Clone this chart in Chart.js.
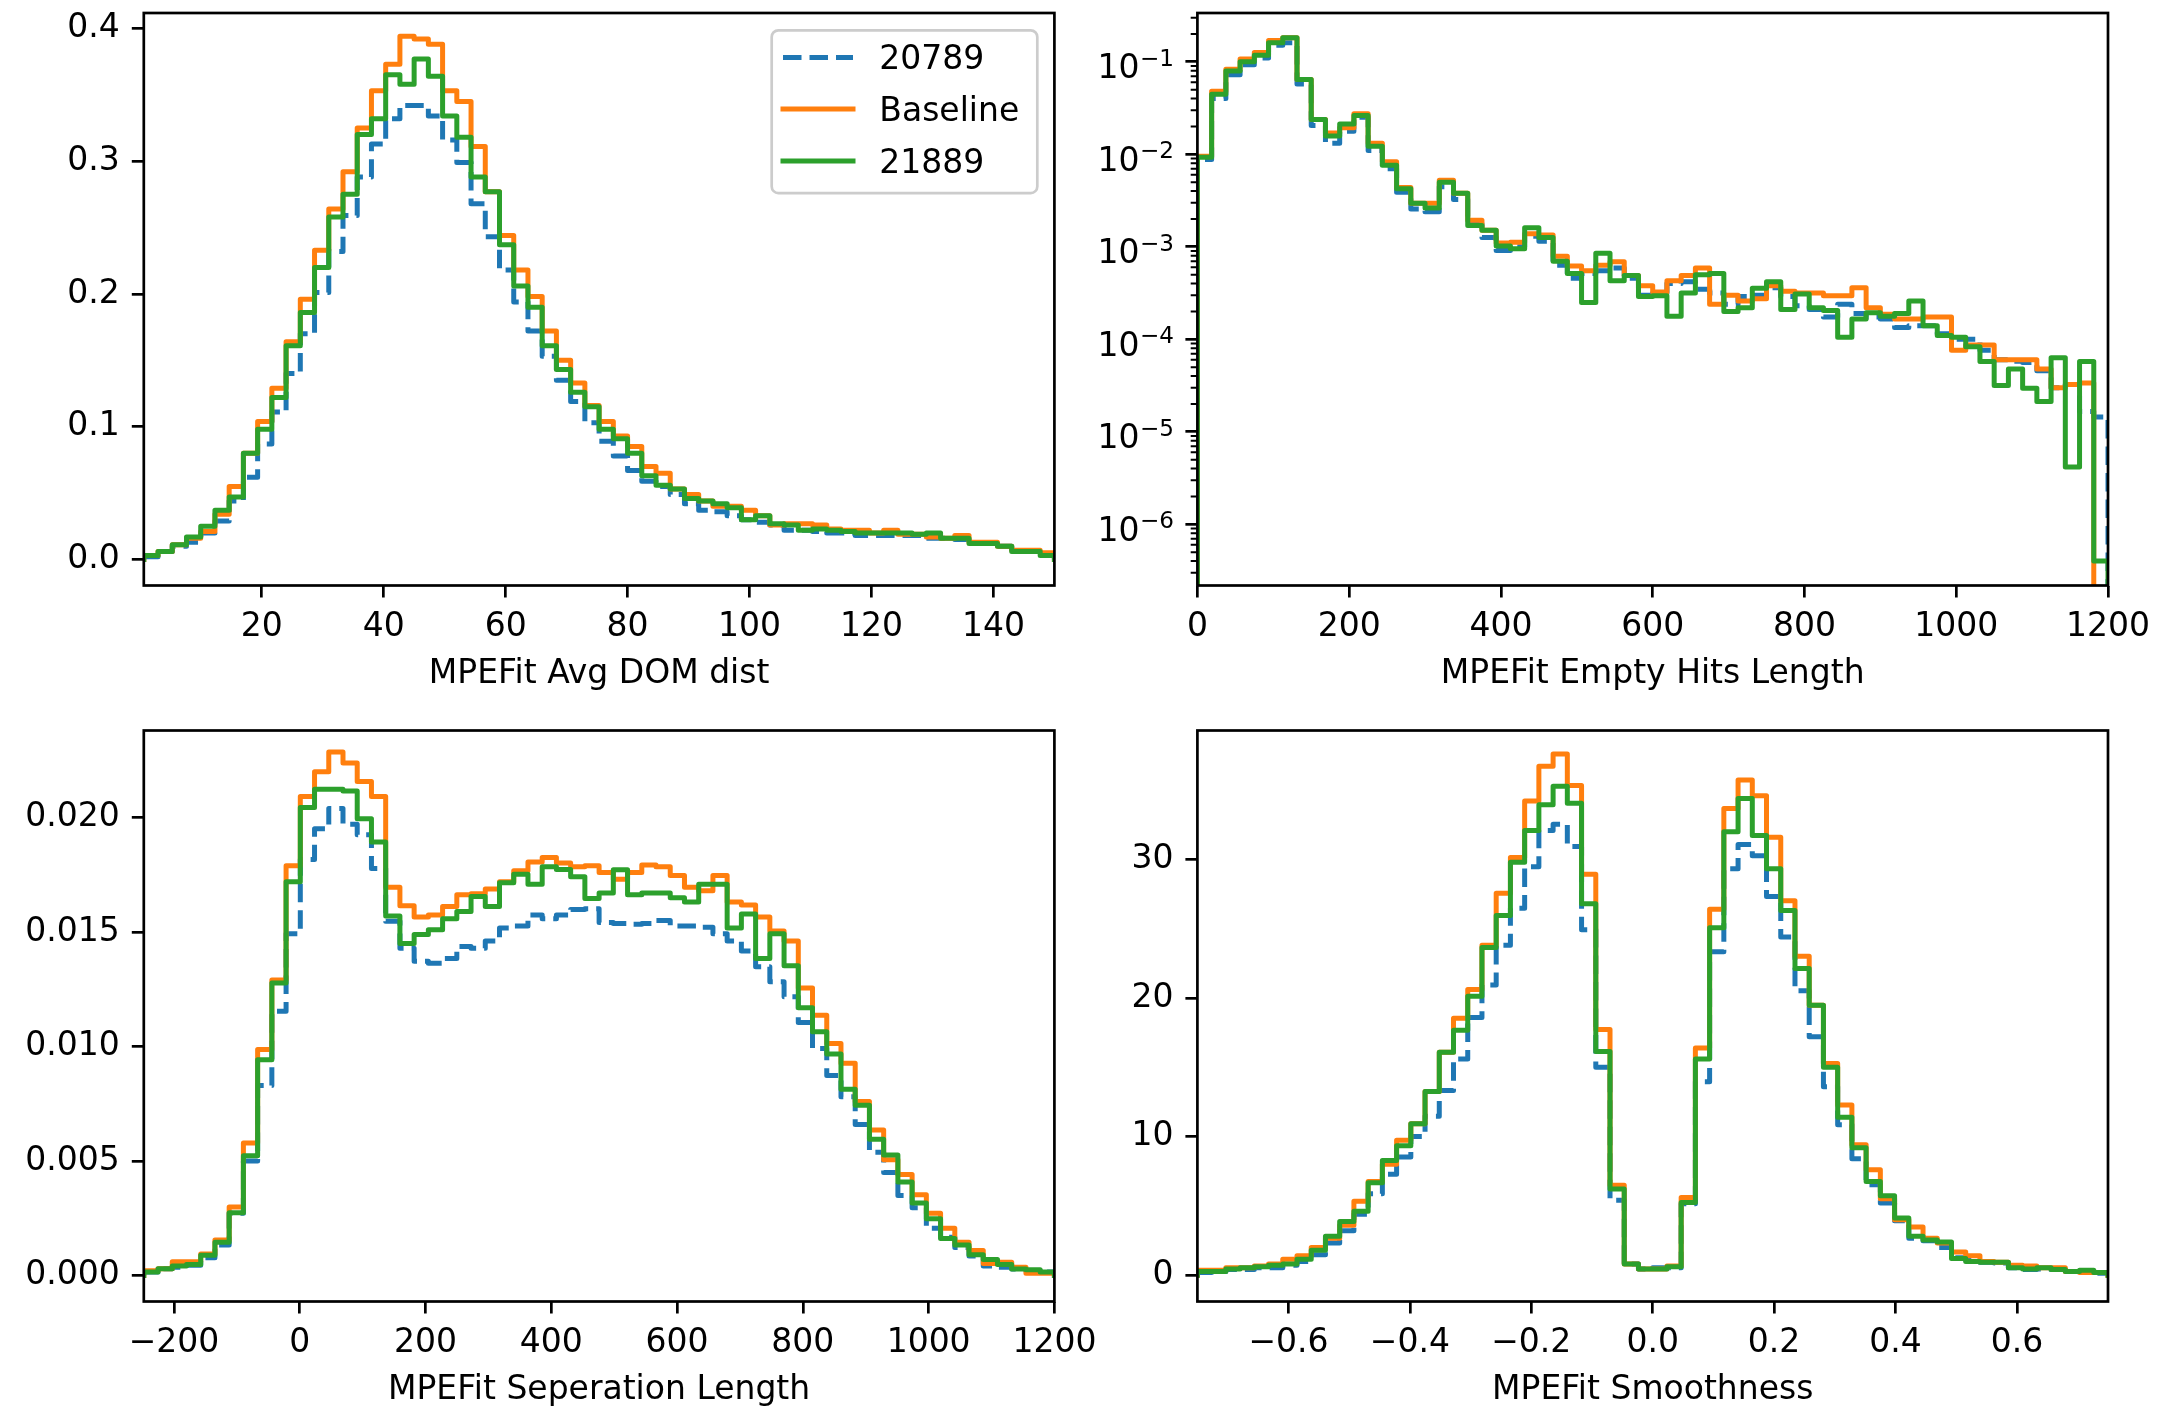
<!DOCTYPE html>
<html>
<head>
<meta charset="utf-8">
<script src="https://cdn.jsdelivr.net/npm/chart.js@4.4.1/dist/chart.umd.min.js"></script>
<style>
html,body{margin:0;padding:0;background:#fff;width:2163px;height:1407px;overflow:hidden;}
canvas{position:absolute;}
#legend{position:absolute;left:0;top:0;}
</style>
</head>
<body>
<canvas id="c1"></canvas>
<canvas id="c2"></canvas>
<canvas id="c3"></canvas>
<canvas id="c4"></canvas>
<svg id="legend" width="1100" height="220"></svg>
<script>
// ---------------- data ----------------
const seriesNames = ['20789', 'Baseline', '21889'];
const seriesColors = ['#1f77b4', '#ff7f0e', '#2ca02c'];
const nBins = 64;

// Panel 1: MPEFit Avg DOM dist
const avgRange = [0.66, 150];
const avg20789 = [0.002,0.006,0.010,0.013,0.020,0.029,0.044,0.062,0.087,0.111,0.140,0.170,0.201,0.232,0.259,0.288,0.313,0.332,0.342,0.342,0.334,0.316,0.299,0.268,0.243,0.218,0.194,0.172,0.153,0.135,0.119,0.103,0.089,0.078,0.067,0.059,0.055,0.049,0.042,0.037,0.036,0.033,0.030,0.028,0.026,0.022,0.022,0.021,0.020,0.020,0.018,0.018,0.018,0.018,0.018,0.016,0.016,0.015,0.012,0.012,0.010,0.006,0.006,0.003];
const avgBaseline = [0.003,0.006,0.011,0.016,0.021,0.034,0.055,0.080,0.104,0.129,0.164,0.196,0.233,0.264,0.292,0.325,0.353,0.373,0.394,0.392,0.388,0.353,0.345,0.311,0.277,0.244,0.218,0.198,0.172,0.150,0.133,0.116,0.104,0.093,0.085,0.070,0.065,0.053,0.049,0.044,0.040,0.040,0.037,0.033,0.026,0.027,0.027,0.026,0.023,0.022,0.022,0.020,0.022,0.019,0.019,0.017,0.016,0.018,0.013,0.013,0.010,0.007,0.007,0.005];
const avg21889 = [0.003,0.006,0.011,0.017,0.025,0.037,0.047,0.080,0.098,0.122,0.161,0.186,0.220,0.258,0.275,0.320,0.332,0.365,0.358,0.377,0.364,0.334,0.318,0.288,0.277,0.237,0.206,0.190,0.161,0.143,0.126,0.115,0.098,0.091,0.080,0.063,0.056,0.053,0.046,0.044,0.042,0.039,0.030,0.033,0.027,0.026,0.022,0.023,0.022,0.021,0.020,0.020,0.020,0.020,0.019,0.020,0.016,0.016,0.012,0.012,0.010,0.006,0.006,0.003];
const avgTicksX = [20,40,60,80,100,120,140];
const avgTickLabelsX = ['20','40','60','80','100','120','140'];
const avgTicksY = [0,0.1,0.2,0.3,0.4];
const avgTickLabelsY = ['0.0','0.1','0.2','0.3','0.4'];
const avgYRange = [-0.0196, 0.4116];

// Panel 2: MPEFit Empty Hits Length (log y)
const hitsRange = [0, 1200];
const hits20789 = [0.0088,0.040,0.0724,0.093,0.11,0.151,0.161,0.0575,0.0205,0.0132,0.0177,0.0251,0.011,0.007,0.0039,0.00256,0.0024,0.00445,0.00325,0.00177,0.00126,0.00091,0.001,0.0013,0.00115,0.00063,0.000457,0.000515,0.00055,0.00059,0.000457,0.0003,0.000316,0.0004,0.00042,0.000347,0.000316,0.00024,0.00029,0.0003,0.00036,0.00029,0.00023,0.00021,0.000174,0.00024,0.00019,0.000174,0.000166,0.000134,0.00014,0.00014,0.000115,0.0001,0.0001,0.000076,0.00006,0.000058,0.000056,0.0000457,0.00003,0.0000325,0.0000166,0.0000145];
const hitsBaseline = [0.0095,0.048,0.083,0.107,0.126,0.17,0.182,0.0643,0.0238,0.017,0.0194,0.0275,0.0132,0.0083,0.00437,0.00296,0.00296,0.00525,0.0038,0.00194,0.00151,0.0011,0.00112,0.00138,0.00134,0.00079,0.00062,0.00055,0.00063,0.00069,0.00049,0.00038,0.000325,0.00043,0.00049,0.00059,0.00024,0.0003,0.00026,0.000275,0.00038,0.00033,0.000316,0.000316,0.000296,0.000296,0.00036,0.00022,0.000187,0.000166,0.000166,0.000174,0.000174,0.000076,0.000087,0.000087,0.00006,0.00006,0.00006,0.0000479,0.00003,0.0000325,0.0000337,0];
const hits21889 = [0.0093,0.0445,0.0794,0.1,0.118,0.161,0.182,0.0643,0.0238,0.0158,0.0213,0.0263,0.0122,0.0076,0.00425,0.00296,0.00263,0.005,0.0038,0.0017,0.00151,0.00102,0.00095,0.00161,0.00126,0.0007,0.000515,0.00025,0.00085,0.00043,0.00049,0.00029,0.000296,0.000177,0.000316,0.0005,0.000515,0.0002,0.00022,0.000356,0.00042,0.00021,0.000308,0.00022,0.000205,0.000105,0.000166,0.000194,0.000177,0.00019,0.00026,0.00014,0.00011,0.000105,0.000083,0.0000575,0.0000316,0.0000479,0.0000296,0.0000213,0.000063,0.00000417,0.0000575,0.0000004];
const hitsTicksX = [0,200,400,600,800,1000,1200];
const hitsTickLabelsX = ['0','200','400','600','800','1000','1200'];
const hitsTicksY = [1e-6,1e-5,1e-4,1e-3,1e-2,1e-1];
const hitsTickBase = '10';
const hitsTickExponents = ['\u22126','\u22125','\u22124','\u22123','\u22122','\u22121'];
const hitsYRange = [2.18e-7, 0.337];

// Panel 3: MPEFit Seperation Length
const sepRange = [-248, 1200];
const sep20789 = [0.00016,0.0003,0.00037,0.00045,0.00078,0.00134,0.00272,0.0050,0.0083,0.01154,0.01493,0.01817,0.01951,0.02039,0.01971,0.01925,0.01777,0.01547,0.01429,0.01372,0.01364,0.01385,0.01437,0.01429,0.01461,0.01518,0.01526,0.01574,0.01558,0.01574,0.01599,0.01602,0.01542,0.01537,0.01534,0.01537,0.0155,0.01526,0.01526,0.01521,0.01493,0.01461,0.01417,0.01348,0.01283,0.01218,0.01105,0.00992,0.00874,0.00781,0.0066,0.00539,0.0045,0.0035,0.00296,0.00207,0.00167,0.00123,0.00086,0.00042,0.00037,0.00029,0.00021,0.00016];
const sepBaseline = [0.00021,0.0003,0.00061,0.00061,0.00094,0.00155,0.0030,0.00579,0.00987,0.01291,0.0179,0.02092,0.0220,0.02286,0.02238,0.02157,0.02092,0.01696,0.01615,0.01566,0.01574,0.01612,0.01663,0.01667,0.01688,0.0172,0.01768,0.01806,0.01825,0.01801,0.01785,0.0179,0.0176,0.01731,0.0176,0.01793,0.01785,0.01747,0.01696,0.0168,0.01747,0.01631,0.01618,0.01566,0.01505,0.01461,0.01256,0.01137,0.01013,0.00927,0.0076,0.00636,0.00506,0.00442,0.00353,0.00272,0.00207,0.00146,0.0011,0.00053,0.00058,0.00037,0.0001,0.0001];
const sep21889 = [0.00016,0.0003,0.00042,0.00049,0.00089,0.00146,0.00275,0.00523,0.00943,0.01278,0.0172,0.02044,0.02124,0.02124,0.02116,0.01995,0.01893,0.0157,0.0145,0.01489,0.0151,0.01558,0.0159,0.01655,0.01612,0.01715,0.01752,0.01709,0.01785,0.01773,0.01741,0.01647,0.01671,0.01772,0.01663,0.01671,0.01671,0.0165,0.01631,0.01709,0.01709,0.01518,0.01579,0.01385,0.01493,0.01353,0.0117,0.01065,0.00968,0.00814,0.00744,0.00595,0.00527,0.00409,0.00317,0.00248,0.00162,0.00134,0.00091,0.0007,0.00049,0.00029,0.00026,0.00016];
const sepTicksX = [-200,0,200,400,600,800,1000,1200];
const sepTickLabelsX = ['\u2212200','0','200','400','600','800','1000','1200'];
const sepTicksY = [0,0.005,0.010,0.015,0.020];
const sepTickLabelsY = ['0.000','0.005','0.010','0.015','0.020'];
const sepYRange = [-0.00113, 0.0238];

// Panel 4: MPEFit Smoothness
const smoothRange = [-0.75, 0.75];
const smooth20789 = [0.19,0.27,0.4,0.4,0.53,0.53,0.72,0.99,1.47,2.32,3.2,4.4,5.87,7.28,8.53,10.0,11.47,13.33,15.6,18.59,20.93,23.81,26.48,29.47,32.08,32.53,30.93,24.93,15.01,5.41,0.8,0.45,0.53,0.53,5.15,13.95,23.33,29.33,31.07,30.27,27.33,24.4,20.53,17.2,13.6,10.85,8.4,6.53,5.2,3.92,2.67,2.48,2.0,1.25,1.07,0.93,0.88,0.53,0.4,0.45,0.4,0.27,0.27,0.13];
const smoothBaseline = [0.35,0.35,0.53,0.53,0.67,0.8,1.15,1.41,2.0,2.67,3.6,5.33,6.75,8.0,9.73,10.93,13.25,16.08,18.53,20.61,23.81,27.55,30.13,34.21,36.72,37.6,35.33,28.93,17.73,6.48,0.8,0.45,0.45,0.67,5.6,16.4,26.4,33.68,35.73,34.59,31.6,27.01,23.01,19.47,15.28,12.27,9.41,7.6,5.52,4.0,3.47,2.67,2.32,1.68,1.41,0.99,0.93,0.72,0.67,0.53,0.53,0.27,0.19,0.19];
const smooth21889 = [0.27,0.27,0.45,0.53,0.61,0.72,0.8,1.15,1.79,2.8,3.87,4.61,6.67,8.27,9.33,10.93,13.25,16.08,17.68,20.13,23.65,25.95,29.79,32.08,33.95,35.28,34.05,26.8,16.13,6.21,0.8,0.45,0.45,0.61,5.25,15.6,25.07,32.0,34.4,31.73,29.33,26.32,22.13,19.47,15.01,11.39,9.2,6.75,5.73,4.13,2.8,2.53,2.4,1.2,0.99,0.93,0.93,0.53,0.45,0.53,0.4,0.27,0.35,0.19];
const smoothTicksX = [-0.6,-0.4,-0.2,0,0.2,0.4,0.6];
const smoothTickLabelsX = ['\u22120.6','\u22120.4','\u22120.2','0.0','0.2','0.4','0.6'];
const smoothTicksY = [0,10,20,30];
const smoothTickLabelsY = ['0','10','20','30'];
const smoothYRange = [-1.9, 39.3];

// ---------------- drawing ----------------
const FAMILY = "'DejaVu Sans'";
const FONT = {family: FAMILY, size: 33, lineHeight: 1.2};
const LW = 5;          // histogram line width
const SPINE = 2.7;     // axes line width
const TICKLEN = 12;
const XAXIS_H = 114.5;

function makeEdges(r) {
  const e = [];
  for (let i = 0; i <= nBins; i++) e.push(r[0] + (r[1] - r[0]) * i / nBins);
  return e;
}
function stepData(edges, vals, base) {
  const pts = [{x: edges[0], y: base}];
  vals.forEach((v, i) => pts.push({x: edges[i], y: v > 0 ? v : base}));
  pts.push({x: edges[edges.length - 1], y: base});
  return pts;
}

const framePlugin = {
  id: 'frame',
  afterDatasetsDraw(chart) {
    const {ctx, chartArea: a} = chart;
    ctx.save();
    ctx.strokeStyle = '#000';
    ctx.lineWidth = SPINE;
    ctx.lineJoin = 'miter';
    ctx.strokeRect(a.left, a.top, a.right - a.left, a.bottom - a.top);
    ctx.restore();
  }
};
const minorLogTicks = {
  id: 'minorLogTicks',
  afterDraw(chart) {
    const s = chart.scales.y;
    if (s.type !== 'logarithmic') return;
    const ctx = chart.ctx;
    ctx.save();
    ctx.strokeStyle = '#000';
    ctx.lineWidth = 2;
    ctx.beginPath();
    const e0 = Math.floor(Math.log10(s.min)), e1 = Math.ceil(Math.log10(s.max));
    for (let e = e0; e <= e1; e++) {
      for (let d = 2; d <= 9; d++) {
        const v = d * Math.pow(10, e);
        if (v < s.min || v > s.max) continue;
        const y = s.getPixelForValue(v);
        ctx.moveTo(s.right, y);
        ctx.lineTo(s.right - 6.7, y);
      }
    }
    ctx.stroke();
    ctx.restore();
  }
};
// power-of-ten labels with a real superscript (base at full size, exponent at 70%)
function powerLabels(values, base, exps) {
  return {
    id: 'powerLabels',
    afterDraw(chart) {
      const s = chart.scales.y, ctx = chart.ctx;
      const xr = s.right - TICKLEN - 11.4;
      ctx.save();
      ctx.fillStyle = '#000';
      ctx.textAlign = 'right';
      ctx.textBaseline = 'alphabetic';
      values.forEach((v, i) => {
        const y = s.getPixelForValue(v);
        ctx.font = '23.1px ' + FAMILY;
        const we = ctx.measureText(exps[i]).width;
        ctx.fillText(exps[i], xr, y + 3.7);
        ctx.font = '33px ' + FAMILY;
        ctx.fillText(base, xr - we - 0.5, y + 16.6);
      });
      ctx.restore();
    }
  };
}

function makeChart(id, p) {
  const cv = document.getElementById(id);
  const W = p.canvasW;
  const H = Math.round(p.plotB - p.canvasTop + XAXIS_H);
  cv.width = W; cv.height = H;
  cv.style.left = p.canvasLeft + 'px';
  cv.style.top = p.canvasTop + 'px';
  cv.style.width = W + 'px';
  cv.style.height = H + 'px';
  const edges = makeEdges(p.xRange);
  const base = p.logY ? 1e-12 : 0;
  const datasets = p.series.map((vals, i) => ({
    label: seriesNames[i],
    data: stepData(edges, vals, base),
    borderColor: seriesColors[i],
    backgroundColor: seriesColors[i],
    borderWidth: LW,
    borderDash: i === 0 ? [18.5, 8] : [],
    borderCapStyle: i === 0 ? 'butt' : 'square',
    borderJoinStyle: 'round',
    stepped: true,
    fill: false,
    pointRadius: 0,
    pointHoverRadius: 0,
    pointHitRadius: 0,
    tension: 0,
    clip: 0,
    order: 3 - i
  }));
  const gridCfg = {display: true, drawOnChartArea: false, drawTicks: true, tickLength: TICKLEN,
    tickWidth: SPINE, tickColor: '#000', lineWidth: SPINE, color: '#000'};
  const plugins = [framePlugin, minorLogTicks];
  if (p.powerLabels) plugins.push(p.powerLabels);
  return new Chart(cv, {
    type: 'line',
    data: {datasets},
    options: {
      responsive: false,
      maintainAspectRatio: false,
      devicePixelRatio: 1,
      animation: false,
      events: [],
      layout: {padding: {left: 0, top: p.plotT - p.canvasTop, right: p.canvasLeft + W - p.plotR, bottom: 0}},
      plugins: {legend: {display: false}, tooltip: {enabled: false}},
      scales: {
        x: {
          type: 'linear', min: p.xRange[0], max: p.xRange[1], bounds: 'data',
          afterBuildTicks: s => { s.ticks = p.ticksX.map(v => ({value: v})); },
          afterFit: s => { s.height = XAXIS_H; s.paddingLeft = 0; s.paddingRight = 0; },
          ticks: {font: FONT, color: '#000', padding: 10, autoSkip: false, maxRotation: 0, minRotation: 0,
            callback: (v, i) => p.labelsX[i]},
          grid: gridCfg,
          border: {display: false},
          title: {display: true, text: p.title, font: FONT, color: '#000', padding: {top: 0, bottom: 6}}
        },
        y: {
          type: p.logY ? 'logarithmic' : 'linear', min: p.yRange[0], max: p.yRange[1], bounds: 'data',
          afterBuildTicks: s => { s.ticks = p.ticksY.map(v => ({value: v})); },
          afterFit: s => { s.width = p.plotL - p.canvasLeft; s.paddingTop = 0; s.paddingBottom = 0; },
          ticks: {font: FONT, color: '#000', padding: 12, autoSkip: false,
            callback: (v, i) => (p.labelsY ? p.labelsY[i] : '')},
          grid: gridCfg,
          border: {display: false}
        }
      }
    },
    plugins
  });
}

const TOP_T = 13, TOP_B = 585.5, BOT_T = 730.5, BOT_B = 1301.5;
const LEFT_L = 143.8, LEFT_R = 1054.4, RIGHT_L = 1197.4, RIGHT_R = 2108;

makeChart('c1', {canvasLeft: 0, canvasTop: 0, canvasW: 1081,
  plotL: LEFT_L, plotR: LEFT_R, plotT: TOP_T, plotB: TOP_B,
  xRange: avgRange, yRange: avgYRange, logY: false,
  series: [avg20789, avgBaseline, avg21889],
  ticksX: avgTicksX, labelsX: avgTickLabelsX, ticksY: avgTicksY, labelsY: avgTickLabelsY,
  title: 'MPEFit Avg DOM dist'});
makeChart('c2', {canvasLeft: 1081, canvasTop: 0, canvasW: 1082,
  plotL: RIGHT_L, plotR: RIGHT_R, plotT: TOP_T, plotB: TOP_B,
  xRange: hitsRange, yRange: hitsYRange, logY: true,
  series: [hits20789, hitsBaseline, hits21889],
  ticksX: hitsTicksX, labelsX: hitsTickLabelsX, ticksY: hitsTicksY, labelsY: null,
  powerLabels: powerLabels(hitsTicksY, hitsTickBase, hitsTickExponents),
  title: 'MPEFit Empty Hits Length'});
makeChart('c3', {canvasLeft: 0, canvasTop: 700, canvasW: 1110,
  plotL: LEFT_L, plotR: LEFT_R, plotT: BOT_T, plotB: BOT_B,
  xRange: sepRange, yRange: sepYRange, logY: false,
  series: [sep20789, sepBaseline, sep21889],
  ticksX: sepTicksX, labelsX: sepTickLabelsX, ticksY: sepTicksY, labelsY: sepTickLabelsY,
  title: 'MPEFit Seperation Length'});
makeChart('c4', {canvasLeft: 1081, canvasTop: 700, canvasW: 1082,
  plotL: RIGHT_L, plotR: RIGHT_R, plotT: BOT_T, plotB: BOT_B,
  xRange: smoothRange, yRange: smoothYRange, logY: false,
  series: [smooth20789, smoothBaseline, smooth21889],
  ticksX: smoothTicksX, labelsX: smoothTickLabelsX, ticksY: smoothTicksY, labelsY: smoothTickLabelsY,
  title: 'MPEFit Smoothness'});

// ---------------- legend (inside panel 1) ----------------
(function () {
  const NS = 'http://www.w3.org/2000/svg';
  const svg = document.getElementById('legend');
  const el = (tag, attrs, text) => {
    const e = document.createElementNS(NS, tag);
    for (const k in attrs) e.setAttribute(k, attrs[k]);
    if (text !== undefined) e.textContent = text;
    svg.appendChild(e);
    return e;
  };
  el('rect', {x: 771.7, y: 30.3, width: 265.6, height: 162.8, rx: 6.6, ry: 6.6,
    fill: '#fff', 'fill-opacity': 0.8, stroke: '#cccccc', 'stroke-width': 2.7});
  const rows = [57.4, 109.1, 160.9];
  seriesNames.forEach((name, i) => {
    el('line', {x1: 783, y1: rows[i], x2: 853, y2: rows[i], stroke: seriesColors[i], 'stroke-width': LW,
      'stroke-dasharray': i === 0 ? '18.5 8' : 'none', 'stroke-linecap': i === 0 ? 'butt' : 'square'});
    el('text', {x: 879.3, y: rows[i] + 11.8, 'font-family': 'DejaVu Sans', 'font-size': 33, fill: '#000'}, name);
  });
})();
</script>
</body>
</html>
